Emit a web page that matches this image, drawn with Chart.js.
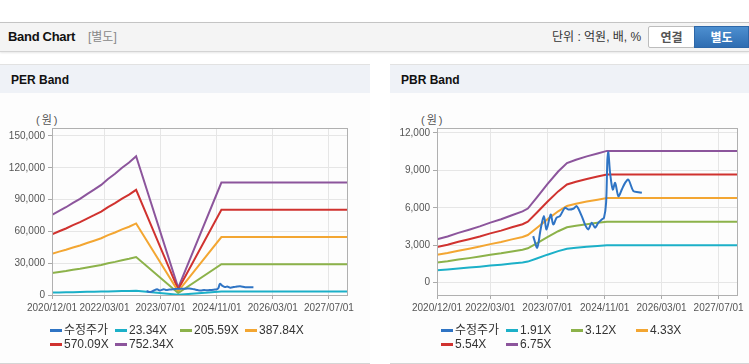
<!DOCTYPE html>
<html lang="ko">
<head>
<meta charset="utf-8">
<title>Band Chart</title>
<script src="https://cdn.jsdelivr.net/npm/chart.js@4.4.1/dist/chart.umd.min.js"></script>
<style>
  body { margin: 0; width: 749px; height: 364px; overflow: hidden; background: #fff; position: relative;
         font-family: "Liberation Sans", "Noto Sans CJK KR", sans-serif; }
  .topbar { position: absolute; left: 0; top: 22px; width: 749px; height: 28px; background: #f4f4f4;
            border-top: 1px solid #c4c4c4; border-bottom: 1px solid #d4d4d4; box-shadow: 0 1px 2px rgba(0,0,0,0.10); }
  .topbar span { position: absolute; top: 0; line-height: 28px; white-space: nowrap; }
  .t1 { left: 8px; font-size: 13px; font-weight: bold; color: #111; font-family: "Liberation Sans Narrow", "Liberation Sans", sans-serif; letter-spacing: -0.3px; }
  .t2 { left: 88px; font-size: 12px; color: #888; }
  .unit { left: 552px; font-size: 12px; color: #333; }
  .btn { top: 3px !important; height: 22px; line-height: 22px !important; font-size: 12px; font-weight: bold; text-align: center; box-sizing: border-box; }
  .b1 { left: 648px; width: 47px; background: #fff; border: 1px solid #bdbdbd; border-radius: 2px; color: #555; }
  .b2 { left: 694px; width: 55px; background: linear-gradient(#4d8fd0, #2f6db2); border: 1px solid #2d67a8; color: #fff; }
  .panel { position: absolute; top: 64px; height: 298px; background: #fdfdfd; border-top: 1px solid #e2e2e2; border-bottom: 1px solid #d5d5d5; }
  .panel .head { height: 28px; line-height: 30px; background: #eff2f7; padding-left: 11px; font-size: 12px; font-weight: bold; color: #111; }
  canvas { position: absolute; top: 93px; }
  .unitlbl { position: absolute; top: 111px; font-size: 11px; color: #555; letter-spacing: 2px; }
  .legend { position: absolute; top: 323px; width: 262px; display: flex; flex-wrap: wrap; }
  .lg { width: 65px; height: 14px; line-height: 14px; font-size: 12px; color: #333; white-space: nowrap; display: flex; align-items: center; }
  .lg i { display: inline-block; width: 12px; height: 3px; margin-right: 2px; }
</style>
</head>
<body>
<div class="topbar">
  <span class="t1">Band Chart</span><span class="t2">[별도]</span>
  <span class="unit">단위 : 억원, 배, %</span>
  <span class="btn b1">연결</span><span class="btn b2">별도</span>
</div>

<div class="panel" style="left:0;width:370px"><div class="head">PER Band</div></div>
<div class="panel" style="left:390px;width:359px"><div class="head">PBR Band</div></div>

<span class="unitlbl" style="left:36px">(원)</span>
<span class="unitlbl" style="left:421px">(원)</span>

<canvas id="per" width="370" height="270" style="left:0"></canvas>
<canvas id="pbr" width="359" height="270" style="left:390px"></canvas>

<div class="legend" id="perLegend" style="left:50px"></div>
<div class="legend" id="pbrLegend" style="left:441px"></div>

<script>
// x축 눈금 (날짜)
const xTickLabels = ['2020/12/01', '2022/03/01', '2023/07/01', '2024/11/01', '2026/03/01', '2027/07/01'];
const xEnd = '2027/12/05';

// 수정주가
const priceDates = ['2023/03/02', '2023/04/05', '2023/05/04', '2023/06/01', '2023/06/24', '2023/07/29', '2023/08/20',
  '2023/09/18', '2023/10/16', '2023/11/28', '2023/12/26', '2024/02/07', '2024/03/07', '2024/04/19', '2024/05/17',
  '2024/06/14', '2024/07/13', '2024/08/11', '2024/09/08', '2024/10/07', '2024/10/26', '2024/11/13', '2024/11/24',
  '2024/12/02', '2024/12/17', '2025/01/09', '2025/01/29', '2025/02/26', '2025/03/27', '2025/04/24', '2025/05/22',
  '2025/07/04', '2025/08/16', '2025/09/14'];
const price = [3730, 2800, 4260, 5330, 4260, 5460, 4660, 5200, 5330, 6000, 5860, 5920, 6130, 5330, 4660,
  4260, 4800, 4400, 4800, 5060, 5200, 6400, 9860, 10450, 8800, 7460, 8000, 6930, 7460, 8000, 8260,
  7330, 7250, 7200];

// PER 밴드
const perDates = ['2020/12/01', '2021/02/01', '2021/04/01', '2021/06/01', '2021/08/01', '2021/10/01', '2021/12/01',
  '2022/02/01', '2022/04/01', '2022/06/01', '2022/08/01', '2022/10/01', '2022/12/01', '2023/12/01', '2024/12/10', xEnd];
const per2334 = [2346, 2462, 2567, 2696, 2812, 2953, 3081, 3221, 3396, 3548, 3723, 3874, 4061, 210, 3291, 3291];
const per20559 = [20662, 21690, 22615, 23746, 24774, 26007, 27138, 28371, 29913, 31250, 32792, 34128, 35773, 1850, 28988, 28988];
const per38784 = [38978, 40917, 42662, 44796, 46735, 49062, 51195, 53522, 56431, 58952, 61860, 64381, 67484, 3491, 54685, 54685];
const per57009 = [57294, 60144, 62710, 65845, 68696, 72116, 75252, 78672, 82948, 86654, 90929, 94635, 99196, 5131, 80383, 80383];
const per75234 = [75610, 79372, 82757, 86895, 90657, 95171, 99309, 103823, 109465, 114356, 119998, 124888, 130907, 6771, 106080, 106080];
const perTicks = [0, 30000, 60000, 90000, 120000, 150000];

// PBR 밴드
const pbrDates = ['2020/12/01', '2021/03/01', '2021/06/01', '2021/09/01', '2021/12/01', '2022/03/01', '2022/06/01',
  '2022/09/01', '2022/12/01', '2023/01/15', '2023/04/01', '2023/07/01', '2023/10/01', '2023/12/15', '2024/03/01',
  '2024/06/01', '2024/09/01', '2024/11/20', xEnd];
const pbr191 = [984, 1047, 1127, 1199, 1276, 1360, 1436, 1528, 1614, 1681, 1929, 2235, 2521, 2712, 2789, 2865, 2932, 2989, 2989];
const pbr312 = [1607, 1710, 1841, 1959, 2084, 2221, 2346, 2496, 2636, 2746, 3151, 3650, 4118, 4430, 4555, 4680, 4789, 4883, 4883];
const pbr433 = [2230, 2373, 2555, 2719, 2892, 3083, 3256, 3464, 3659, 3810, 4373, 5066, 5716, 6149, 6322, 6495, 6647, 6776, 6776];
const pbr554 = [2853, 3036, 3269, 3479, 3701, 3944, 4166, 4432, 4681, 4875, 5595, 6482, 7313, 7867, 8088, 8310, 8504, 8670, 8670];
const pbr675 = [3476, 3699, 3983, 4239, 4509, 4806, 5076, 5400, 5704, 5940, 6818, 7898, 8910, 9585, 9855, 10125, 10361, 10564, 10564];
const pbrTicks = [0, 3000, 6000, 9000, 12000];

const colors = ['#2f74c4', '#1cb0c8', '#8cb24a', '#f3a632', '#d0322f', '#8c559c'];
const tickFont = { family: '"Liberation Sans", sans-serif', size: 10 };

// 2020/12/01 기준 경과 일수
const BASE = Date.UTC(2020, 11, 1);
function toDay(s) {
  const [y, m, d] = s.split('/').map(Number);
  return (Date.UTC(y, m - 1, d) - BASE) / 86400000;
}
const pts = (dates, vals) => dates.map((d, i) => ({ x: toDay(d), y: vals[i] }));

const frame = {
  id: 'frame',
  afterDatasetsDraw(chart) {
    const a = chart.chartArea, ctx = chart.ctx;
    ctx.save();
    ctx.strokeStyle = '#b0b0b0';
    ctx.lineWidth = 1;
    ctx.strokeRect(Math.round(a.left) + 0.5, Math.round(a.top) + 0.5, Math.round(a.right - a.left), Math.round(a.bottom - a.top));
    ctx.restore();
  }
};

function bandChart(id, bands, labels, yMin, yMax, yTicks, yWidth, padRight) {
  const datasets = [{ label: '수정주가', data: pts(priceDates, price), tension: 0.3 }];
  bands.forEach((b, i) => datasets.push({ label: labels[i], data: pts(b.dates, b.vals) }));
  datasets.forEach((ds, i) => {
    ds.borderColor = colors[i];
    ds.backgroundColor = colors[i];
    ds.borderWidth = 2;
    ds.pointRadius = 0;
    ds.fill = false;
  });

  return new Chart(document.getElementById(id), {
    type: 'line',
    data: { datasets },
    options: {
      responsive: false,
      animation: false,
      layout: { padding: { left: 0, top: 35, right: padRight, bottom: 48 } },
      plugins: { legend: { display: false }, tooltip: { enabled: false } },
      scales: {
        x: {
          type: 'linear', min: 0, max: toDay(xEnd),
          afterFit(s) { s.height = 20; },
          afterBuildTicks(s) { s.ticks = xTickLabels.map(d => ({ value: toDay(d) })); },
          ticks: { color: '#555', font: tickFont, padding: 3, maxRotation: 0, autoSkip: false,
                   callback: (v, i) => xTickLabels[i] },
          grid: { color: '#e6e6e6', tickColor: '#aaa', tickLength: 4 },
          border: { color: '#b0b0b0' }
        },
        y: {
          type: 'linear', min: yMin, max: yMax,
          afterFit(s) { s.width = yWidth; },
          afterBuildTicks(s) { s.ticks = yTicks.map(v => ({ value: v })); },
          ticks: { color: '#555', font: tickFont, padding: 3, callback: v => v.toLocaleString('en-US') },
          grid: { color: '#e6e6e6', tickColor: '#aaa', tickLength: 4 },
          border: { color: '#b0b0b0' }
        }
      }
    },
    plugins: [frame]
  });
}

function buildLegend(chart, elId) {
  const el = document.getElementById(elId);
  chart.data.datasets.forEach(ds => {
    const item = document.createElement('span');
    item.className = 'lg';
    const mark = document.createElement('i');
    mark.style.background = ds.borderColor;
    item.appendChild(mark);
    item.appendChild(document.createTextNode(ds.label));
    el.appendChild(item);
  });
}

const perChart = bandChart('per', [
  { dates: perDates, vals: per2334 },
  { dates: perDates, vals: per20559 },
  { dates: perDates, vals: per38784 },
  { dates: perDates, vals: per57009 },
  { dates: perDates, vals: per75234 }
], ['23.34X', '205.59X', '387.84X', '570.09X', '752.34X'], 0, 157500, perTicks, 52, 23);

const pbrChart = bandChart('pbr', [
  { dates: pbrDates, vals: pbr191 },
  { dates: pbrDates, vals: pbr312 },
  { dates: pbrDates, vals: pbr433 },
  { dates: pbrDates, vals: pbr554 },
  { dates: pbrDates, vals: pbr675 }
], ['1.91X', '3.12X', '4.33X', '5.54X', '6.75X'], -1000, 12400, pbrTicks, 47, 12);

buildLegend(perChart, 'perLegend');
buildLegend(pbrChart, 'pbrLegend');
</script>
</body>
</html>
